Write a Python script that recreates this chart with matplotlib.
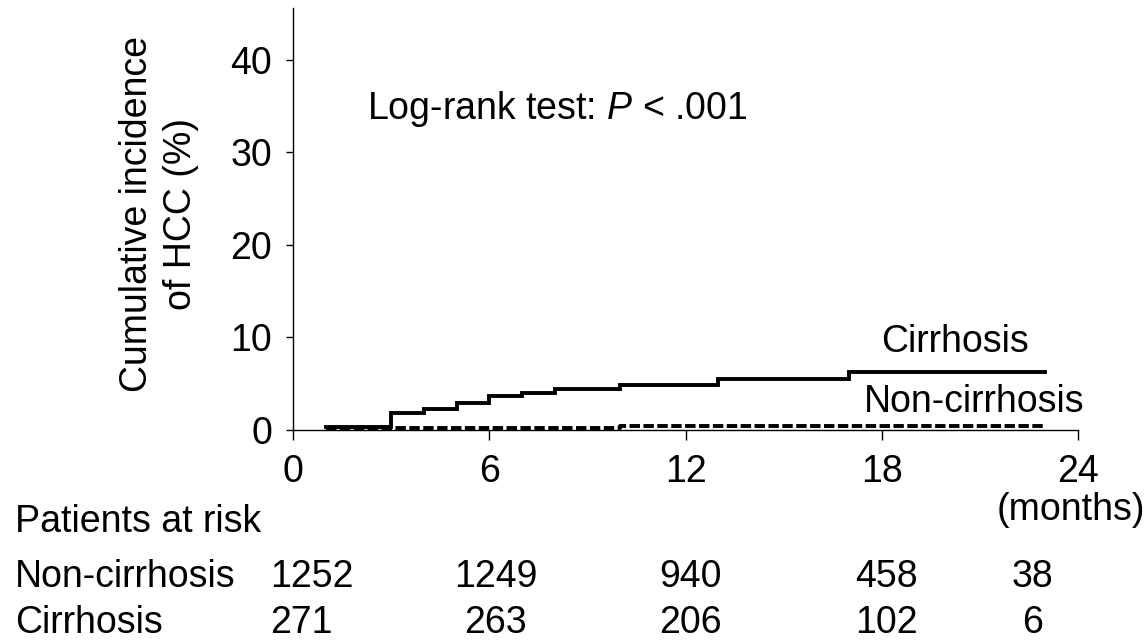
import matplotlib
matplotlib.use("Agg")
import matplotlib.pyplot as plt

# Data
months_cirr = [1, 3, 4, 5, 6, 7, 8, 10, 13, 17, 23]
inc_cirr = [0.37, 1.87, 2.23, 2.95, 3.68, 4.03, 4.43, 4.83, 5.48, 6.24, 6.24]
months_noncirr = [1, 10, 23]
inc_noncirr = [0.22, 0.40, 0.40]

x_ticks = [0, 6, 12, 18, 24]
y_ticks = [0, 10, 20, 30, 40]

risk_groups = ['Non-cirrhosis', 'Cirrhosis']
risk_noncirr = [1252, 1249, 940, 458, 38]
risk_cirr = [271, 263, 206, 102, 6]

plt.rcParams['font.family'] = ['Liberation Sans', 'DejaVu Sans']
plt.rcParams['mathtext.fontset'] = 'custom'
plt.rcParams['mathtext.rm'] = 'Liberation Sans'
plt.rcParams['mathtext.it'] = 'Liberation Sans:italic'
plt.rcParams['lines.scale_dashes'] = False
fs = 27

fig = plt.figure(figsize=(11.48, 6.42), dpi=100)
ax = fig.add_axes([293 / 1148, 1 - 430 / 642, (1078 - 293) / 1148, 422 / 642])

ax.step(months_cirr, inc_cirr, where='post', color='black', lw=2.8,
        solid_joinstyle='miter')
ax.step(months_noncirr, inc_noncirr, where='post', color='black', lw=2.8,
        linestyle=(0, (7.5, 2.5)), dash_capstyle='butt')

ax.set_xlim(0, 24)
ax.set_ylim(0, 45.6)
ax.set_xticks(x_ticks)
ax.set_yticks(y_ticks)
ax.tick_params(axis='x', labelsize=fs, length=7, width=1, pad=10)
ax.tick_params(axis='y', labelsize=fs, length=5, width=1, pad=10)
for side in ['top', 'right']:
    ax.spines[side].set_visible(False)
for side in ['left', 'bottom']:
    ax.spines[side].set_linewidth(1.0)

ax.text(2.25, 33.6, 'Log-rank test: $P$ < .001', fontsize=fs, va='baseline', ha='left')
ax.text(20.23, 8.43, 'Cirrhosis', fontsize=fs, va='baseline', ha='center')
ax.text(20.84, 1.95, 'Non-cirrhosis', fontsize=fs, va='baseline', ha='center', clip_on=False)

fig.text(159 / 1148, 1 - 214 / 642, 'Cumulative incidence\nof HCC (%)', rotation=90,
         fontsize=fs, ha='center', va='center', multialignment='center', linespacing=1.3)

fig.text(1071 / 1148, 1 - 520 / 642, '(months)', fontsize=fs, ha='center', va='baseline')

# risk table
fig.text(15 / 1148, 1 - 532 / 642, 'Patients at risk', fontsize=fs, va='baseline')
row_y = [1 - 587 / 642, 1 - 633 / 642]
col_x = [-0.7, 6.2, 12.15, 18.15, 22.6]
col_ha = ['left', 'center', 'center', 'center', 'center']
for gi, (name, counts) in enumerate(zip(risk_groups, [risk_noncirr, risk_cirr])):
    fig.text(15 / 1148, row_y[gi], name, fontsize=fs, va='baseline')
    for cx, ha, n in zip(col_x, col_ha, counts):
        xf = fig.transFigure.inverted().transform(ax.transData.transform((cx, 0)))[0]
        fig.text(xf, row_y[gi], str(n), fontsize=fs, va='baseline', ha=ha)

fig.savefig('out.png', dpi=100)
